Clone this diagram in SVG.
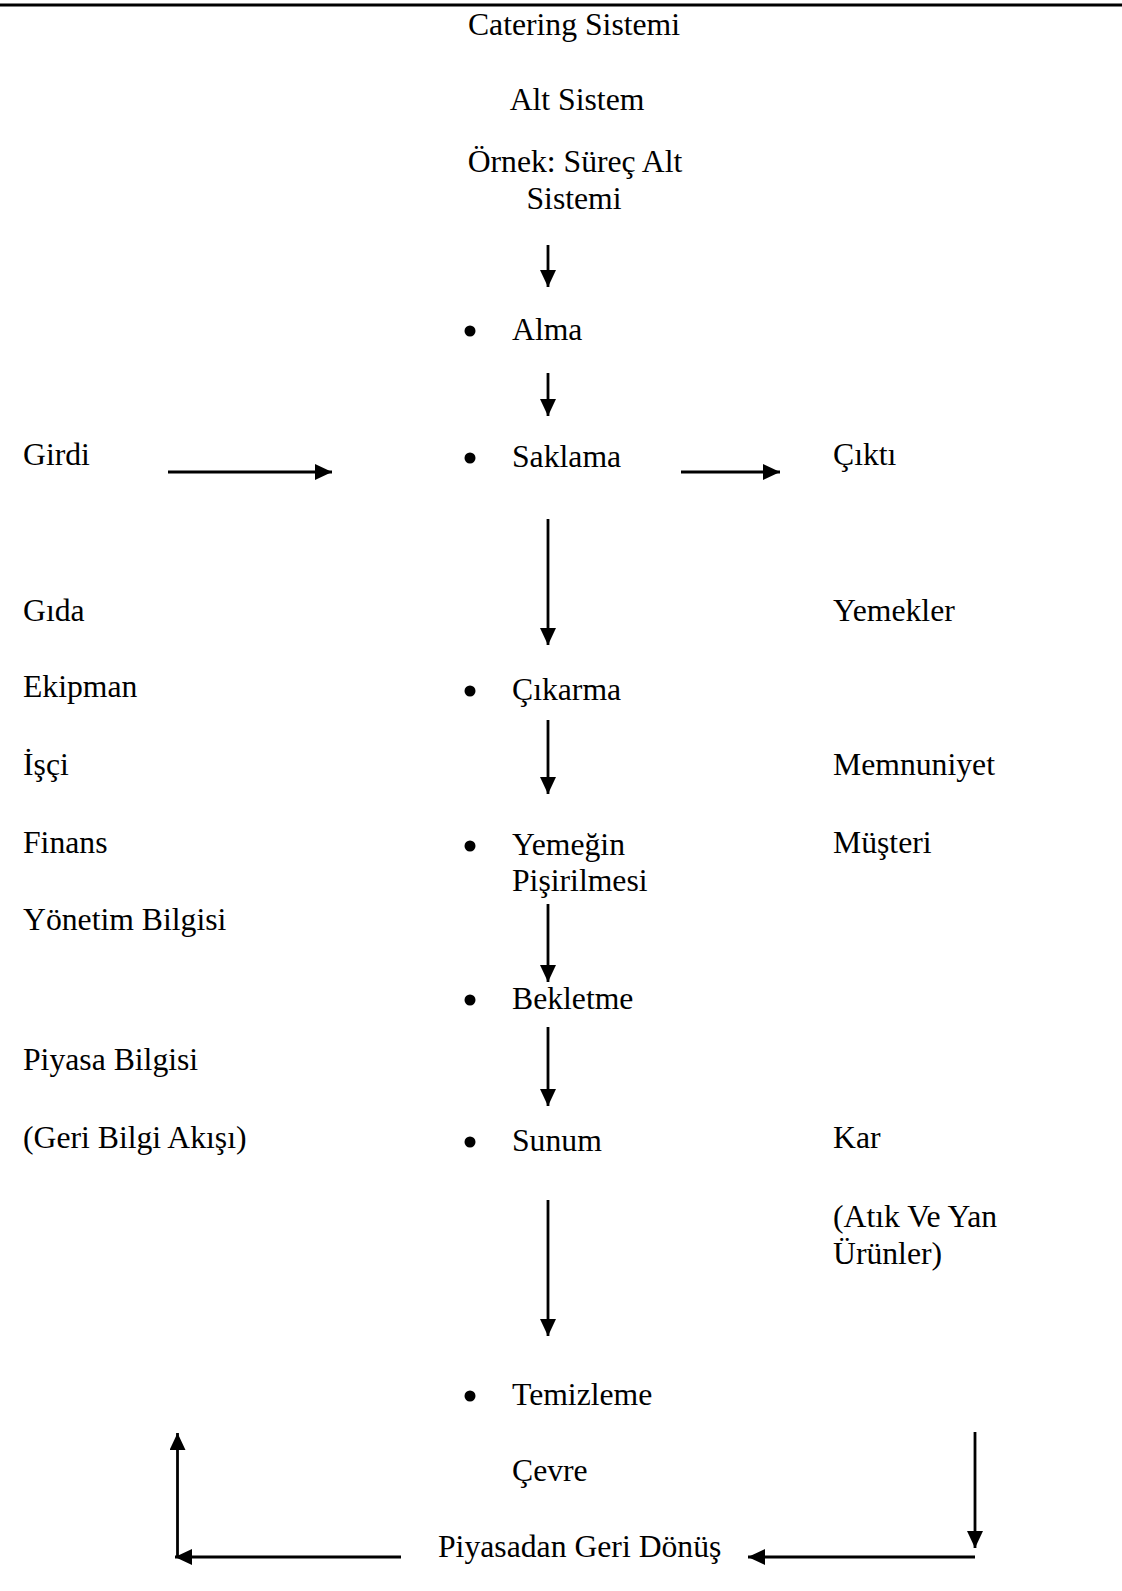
<svg xmlns="http://www.w3.org/2000/svg" width="1122" height="1591" viewBox="0 0 1122 1591">
<style>
text{font-family:"Liberation Serif","Times New Roman",serif;font-size:31.7px;fill:#000}
.c{text-anchor:middle}
.ln{stroke:#000;stroke-width:2.8;fill:none}
.b{fill:#000}
</style>
<defs>
<marker id="ah" markerUnits="userSpaceOnUse" markerWidth="17" markerHeight="16" refX="17" refY="8" orient="auto">
<path d="M0,0 L17,8 L0,16 Z" fill="#000"/>
</marker>
</defs>
<rect width="1122" height="1591" fill="#fff"/>
<line x1="0" y1="5" x2="1122" y2="5" stroke="#000" stroke-width="3"/>
<g id="title"><text class="c" x="574" y="35">Catering Sistemi</text></g>
<g id="alt-sistem"><text class="c" x="577" y="110">Alt Sistem</text></g>
<g id="ornek"><text class="c" x="575" y="172">Örnek: Süreç Alt</text><text class="c" x="574" y="209">Sistemi</text></g>
<g id="alma"><circle class="b" cx="470" cy="331" r="5.5"/><text x="512" y="340">Alma</text></g>
<g id="saklama"><circle class="b" cx="470" cy="458" r="5.5"/><text x="512" y="467">Saklama</text></g>
<g id="cikarma"><circle class="b" cx="470" cy="691" r="5.5"/><text x="512" y="700">Çıkarma</text></g>
<g id="pisirme"><circle class="b" cx="470" cy="846" r="5.5"/><text x="512" y="855">Yemeğin</text><text x="512" y="891">Pişirilmesi</text></g>
<g id="bekletme"><circle class="b" cx="470" cy="1000" r="5.5"/><text x="512" y="1009">Bekletme</text></g>
<g id="sunum"><circle class="b" cx="470" cy="1142" r="5.5"/><text x="512" y="1151">Sunum</text></g>
<g id="temizleme"><circle class="b" cx="470" cy="1396" r="5.5"/><text x="512" y="1405">Temizleme</text></g>
<g id="cevre"><text x="512" y="1481">Çevre</text></g>
<g id="piyasadan"><text x="438" y="1557">Piyasadan Geri Dönüş</text></g>
<g id="girdi-col">
<text x="23" y="465">Girdi</text>
<text x="23" y="621">Gıda</text>
<text x="23" y="697">Ekipman</text>
<text x="23" y="775">İşçi</text>
<text x="23" y="853">Finans</text>
<text x="23" y="930">Yönetim Bilgisi</text>
<text x="23" y="1070">Piyasa Bilgisi</text>
<text x="23" y="1148">(Geri Bilgi Akışı)</text>
</g>
<g id="cikti-col">
<text x="833" y="465">Çıktı</text>
<text x="833" y="621">Yemekler</text>
<text x="833" y="775">Memnuniyet</text>
<text x="833" y="853">Müşteri</text>
<text x="833" y="1148">Kar</text>
<text x="833" y="1227">(Atık Ve Yan</text>
<text x="833" y="1264">Ürünler)</text>
</g>
<g id="connectors">
<line class="ln" x1="548" y1="245" x2="548" y2="287" marker-end="url(#ah)"/>
<line class="ln" x1="548" y1="373" x2="548" y2="416" marker-end="url(#ah)"/>
<line class="ln" x1="548" y1="519" x2="548" y2="645" marker-end="url(#ah)"/>
<line class="ln" x1="548" y1="720" x2="548" y2="794" marker-end="url(#ah)"/>
<line class="ln" x1="548" y1="904" x2="548" y2="982" marker-end="url(#ah)"/>
<line class="ln" x1="548" y1="1027" x2="548" y2="1106" marker-end="url(#ah)"/>
<line class="ln" x1="548" y1="1200" x2="548" y2="1336" marker-end="url(#ah)"/>
<line class="ln" x1="168" y1="472" x2="332" y2="472" marker-end="url(#ah)"/>
<line class="ln" x1="681" y1="472" x2="780" y2="472" marker-end="url(#ah)"/>
<line class="ln" x1="975" y1="1432" x2="975" y2="1548" marker-end="url(#ah)"/>
<line class="ln" x1="975" y1="1557" x2="748" y2="1557" marker-end="url(#ah)"/>
<line class="ln" x1="401" y1="1557" x2="175" y2="1557" marker-end="url(#ah)"/>
<line class="ln" x1="177.5" y1="1557" x2="177.5" y2="1433" marker-end="url(#ah)"/>
</g>
</svg>
